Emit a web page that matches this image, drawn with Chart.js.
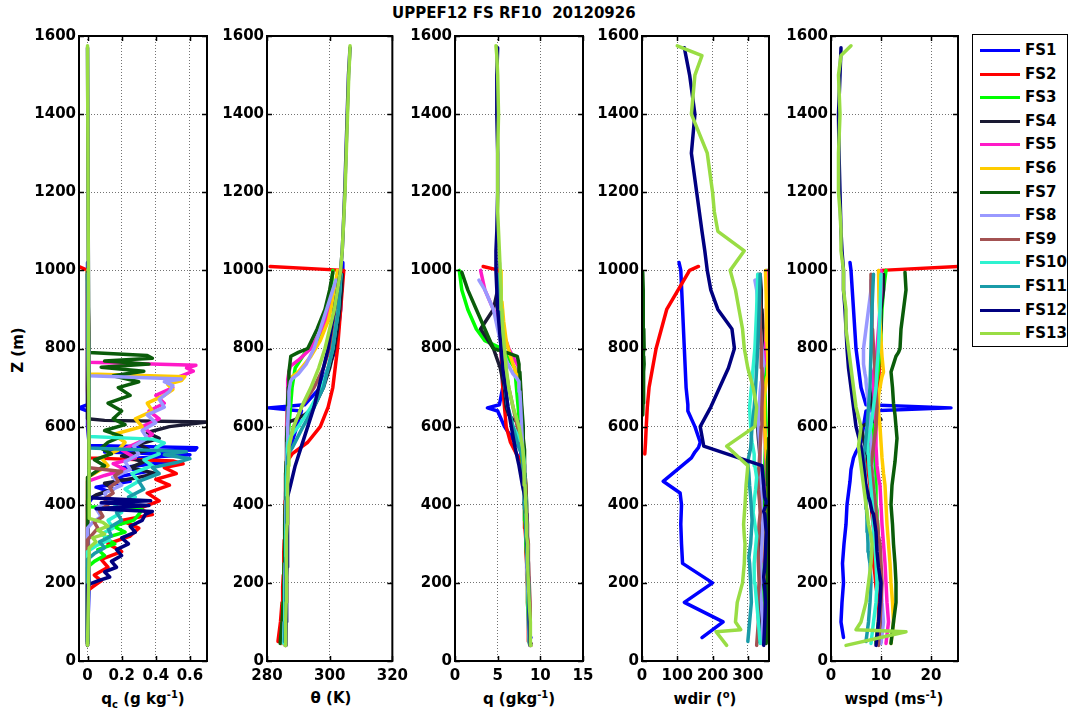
<!DOCTYPE html>
<html>
<head>
<meta charset="utf-8">
<script src="https://cdn.jsdelivr.net/npm/chart.js@4.4.1/dist/chart.umd.min.js"></script>
<style>
  body { margin: 0; background: #fff; width: 1073px; height: 719px; position: relative; overflow: hidden;
         font-family: "DejaVu Sans", sans-serif; font-weight: bold; color: #000; }
  canvas.panel { position: absolute; }
  .txt { position: absolute; white-space: nowrap; font-size: 15px; }
  .axlab { position: absolute; top: 689px; font-size: 15px; white-space: nowrap; transform: translateX(-50%); }
  .axlab sup, .axlab sub { font-size: 10px; }
  #legend { position: absolute; left: 972px; top: 34px; width: 96px; height: 313px; border: 1.5px solid #000; box-sizing: border-box; }
  #legend .row { position: absolute; left: 0; height: 20px; font-size: 15px; line-height: 20px; }
  #legend .swatch { position: absolute; left: 7px; top: 9px; width: 40px; height: 3px; }
  #legend .name { position: absolute; left: 52px; top: 0; }
</style>
</head>
<body>
<div class="txt" id="title" style="left:392px; top:4px;">UPPEF12 FS RF10&nbsp;&nbsp;20120926</div>
<div class="txt" style="left:18px; top:350px; transform: translate(-50%, -50%) rotate(-90deg);">Z (m)</div>
<div class="axlab" style="left:143px;">q<sub>c</sub> (g kg<sup>-1</sup>)</div>
<div class="axlab" style="left:331px;">&theta; (K)</div>
<div class="axlab" style="left:519px;">q (gkg<sup>-1</sup>)</div>
<div class="axlab" style="left:705px;">wdir (<sup>o</sup>)</div>
<div class="axlab" style="left:894px;">wspd (ms<sup>-1</sup>)</div>
<div id="legend"></div>

<script>
// --- datos: una sonda por serie ---
const fsNames = ['FS1', 'FS2', 'FS3', 'FS4', 'FS5', 'FS6', 'FS7', 'FS8', 'FS9', 'FS10', 'FS11', 'FS12', 'FS13'];
const fsColors = ['#0000FF', '#FF0000', '#00FF00', '#1A1A33', '#FF1AC8', '#FFCC00', '#0A5C0A',
                  '#9999FF', '#A35252', '#2EF2D0', '#199BA8', '#000080', '#99DD44'];

// agua de nube: alturas propias (más finas dentro de la nube)
const fs1QcZ  = [60, 200, 400, 420, 435, 445, 460, 470, 485, 495, 510, 520, 528, 535, 540, 546, 552, 600, 640, 648, 656, 800, 1020];
const fs1QcV  = [0, 0.01, 0, 0.03, 0.12, 0.05, 0.25, 0.15, 0.35, 0.2, 0.48, 0.3, 0.6, 0.1, 0.63, 0.64, 0.01, 0, 0, -0.05, 0, 0, 0];
const fs2QcZ  = [50, 180, 190, 205, 220, 240, 260, 280, 300, 320, 340, 360, 375, 390, 410, 430, 450, 465, 480, 495, 505, 512, 520, 700, 1000, 1010];
const fs2QcV  = [0, 0, 0.03, 0.08, 0.04, 0.12, 0.08, 0.2, 0.12, 0.25, 0.3, 0.2, 0.38, 0.3, 0.42, 0.35, 0.48, 0.4, 0.52, 0.45, 0.56, 0.5, 0.01, 0, 0, -0.05];
const fs3QcZ  = [45, 240, 255, 270, 285, 300, 315, 330, 345, 360, 375, 388, 395, 1000];
const fs3QcV  = [0, 0, 0.04, 0.1, 0.06, 0.16, 0.1, 0.22, 0.15, 0.27, 0.3, 0.32, 0.01, 0];
const fs4QcZ  = [50, 410, 425, 440, 455, 470, 480, 495, 510, 525, 540, 555, 570, 585, 600, 612, 616, 620, 990];
const fs4QcV  = [0, 0, 0.05, 0.15, 0.1, 0.3, 0.4, 0.25, 0.33, 0.2, 0.36, 0.3, 0.42, 0.35, 0.48, 0.7, 0.1, 0, 0];
const fs5QcZ  = [45, 460, 475, 490, 505, 520, 540, 560, 580, 600, 620, 640, 660, 680, 700, 715, 730, 742, 750, 757, 765, 1000];
const fs5QcV  = [0, 0, 0.1, 0.22, 0.15, 0.28, 0.2, 0.3, 0.38, 0.32, 0.42, 0.36, 0.45, 0.4, 0.5, 0.46, 0.55, 0.62, 0.58, 0.635, 0.01, 0];
const fs6QcZ  = [45, 470, 485, 500, 520, 540, 560, 580, 600, 620, 640, 660, 680, 695, 708, 718, 728, 735, 1000];
const fs6QcV  = [0, 0, 0.06, 0.12, 0.08, 0.18, 0.22, 0.15, 0.32, 0.28, 0.38, 0.35, 0.45, 0.5, 0.47, 0.55, 0.57, 0.01, 0];
const fs7QcZ  = [45, 470, 485, 500, 515, 530, 545, 560, 575, 590, 605, 620, 640, 660, 680, 700, 715, 730, 742, 752, 760, 768, 775, 782, 790, 995];
const fs7QcV  = [0, 0, 0.05, 0.1, 0.04, 0.14, 0.08, 0.12, 0.2, 0.1, 0.22, 0.15, 0.2, 0.12, 0.25, 0.18, 0.3, 0.15, 0.33, 0.08, 0.36, 0.1, 0.38, 0.35, 0.01, 0];
const fs8QcZ  = [45, 340, 355, 370, 390, 410, 430, 450, 470, 490, 510, 530, 550, 570, 590, 610, 630, 650, 670, 690, 705, 715, 722, 730, 975];
const fs8QcV  = [0, 0, 0.03, 0.08, 0.05, 0.12, 0.1, 0.2, 0.15, 0.25, 0.22, 0.3, 0.27, 0.35, 0.32, 0.4, 0.35, 0.45, 0.42, 0.48, 0.5, 0.45, 0.55, 0.01, 0];
const fs9QcZ  = [40, 310, 325, 340, 355, 370, 385, 400, 415, 430, 445, 460, 475, 485, 495, 990];
const fs9QcV  = [0, 0, 0.03, 0.06, 0.04, 0.09, 0.07, 0.12, 0.1, 0.15, 0.13, 0.18, 0.16, 0.2, 0.01, 0];
const fs10QcZ = [45, 280, 295, 310, 325, 340, 360, 380, 400, 420, 440, 460, 480, 500, 515, 530, 545, 558, 568, 575, 990];
const fs10QcV = [0, 0, 0.05, 0.13, 0.08, 0.15, 0.12, 0.2, 0.16, 0.28, 0.22, 0.3, 0.26, 0.38, 0.33, 0.42, 0.4, 0.45, 0.38, 0.01, 0];
const fs11QcZ = [50, 260, 275, 290, 305, 320, 340, 360, 380, 400, 420, 440, 460, 480, 495, 508, 518, 528, 536, 545, 990];
const fs11QcV = [0, 0, 0.04, 0.1, 0.07, 0.14, 0.12, 0.2, 0.17, 0.27, 0.24, 0.33, 0.3, 0.42, 0.38, 0.52, 0.6, 0.45, 0.58, 0.01, 0];
const fs12QcZ = [40, 195, 205, 215, 228, 240, 255, 270, 285, 300, 315, 330, 345, 360, 376, 383, 390, 398, 405, 410, 418, 1570];
const fs12QcV = [0, 0, 0.06, 0.13, 0.1, 0.17, 0.14, 0.2, 0.17, 0.24, 0.2, 0.28, 0.25, 0.32, 0.34, 0.38, 0.05, 0.36, 0.08, 0.37, 0.01, 0];
const fs13QcZ = [40, 290, 305, 315, 325, 335, 345, 355, 365, 1575];
const fs13QcV = [0, 0.01, 0.05, 0.03, 0.1, 0.06, 0.12, 0.09, 0.01, 0];

// theta, q, wdir, wspd: alturas compartidas por serie
const fs1Z  = [60, 100, 150, 200, 250, 300, 350, 400, 430, 460, 490, 520, 535, 546, 560, 600, 640, 648, 656, 700, 800, 900, 1000, 1020];
const fs1Th = [285.2, 285.3, 285.4, 285.5, 285.6, 285.7, 285.8, 285.9, 286, 286.1, 286.3, 286.5, 286.7, 287, 288, 289.5, 291, 280.4, 292, 297, 302, 303.5, 304, 304.2];
const fs1Q  = [8.9, 8.8, 8.7, 8.6, 8.5, 8.4, 8.3, 8.2, 8.1, 8.0, 7.9, 7.8, 7.7, 7.6, 7.0, 5.8, 5.0, 3.8, 5.2, 5.6, 5.4, 5.3, 5.2, 5.2];
const fs1Wd = [170, 230, 120, 200, 115, 112, 110, 112, 108, 60, 100, 140, 150, 160, 165, 150, 130, 130, 130, 125, 120, 115, 110, 105];
const fs1Ws = [2.5, 2, 2.2, 2.5, 2.3, 2.6, 3, 3.2, 3.5, 3.8, 4, 4.5, 5, 5.5, 6, 6.5, 7, 24, 7, 6, 5, 4.5, 4, 3.8];

const fs2Z  = [50, 100, 150, 190, 220, 250, 280, 310, 340, 375, 410, 450, 480, 500, 512, 530, 560, 600, 650, 700, 800, 900, 1000, 1010];
const fs2Th = [283.5, 284.3, 284.8, 285, 285.2, 285.3, 285.4, 285.5, 285.6, 285.7, 285.8, 285.9, 286, 286.2, 286.5, 288, 293, 297, 299.5, 301, 302.5, 303.5, 304.5, 281];
const fs2Q  = [8.6, 8.6, 8.5, 8.5, 8.4, 8.4, 8.3, 8.3, 8.2, 8.2, 8.1, 8.0, 8.0, 7.9, 7.8, 7.2, 6.5, 6.0, 5.8, 5.6, 5.4, 5.3, 5.2, 3.3];
const fs2Wd = [350, 345, 340, 342, 338, 340, 345, 350, 348, 352, 355, 350, 356, 358, null, 8, 10, 12, 15, 20, 40, 70, 135, 160];
const fs2Ws = [9, 9.5, 9.5, 9, 8.8, 8.5, 8.6, 8.4, 8.5, 8.2, 8, 7.8, 7.5, 7.2, 7, 7.5, 8, 8.5, 9, 9.5, 9.8, 10, 10, 25.5];

const fs3Z  = [45, 100, 150, 200, 250, 270, 300, 330, 360, 385, 400, 450, 500, 550, 600, 650, 700, 750, 800, 820, 850, 900, 950, 1000];
const fs3Th = [284.5, 285, 285.2, 285.4, 285.5, 285.6, 285.7, 285.8, 285.9, 286, 286, 286.2, 286.4, 286.6, 287, 287.5, 288, 289, 293, 296, 298, 299.5, 300.5, 301];
const fs3Q  = [8.7, 8.6, 8.5, 8.5, 8.4, 8.4, 8.3, 8.3, 8.2, 8.2, 8.1, 8.0, 7.9, 7.8, 7.6, 7.4, 7.2, 7.0, 5.5, 3.5, 2.5, 1.5, 0.8, 0.5];
const fs3Wd = [340, 342, 345, 343, 346, 348, 345, 347, 350, 348, 346, 345, 348, 350, 352, 350, 348, 352, 355, 357, 356, 355, 354, 355];
const fs3Ws = [9, 9.5, 10, 10, 9.8, 9.6, 9.5, 9.4, 9.3, 9.2, 9, 9, 8.8, 8.6, 8.5, 8.8, 9, 9.5, 9.8, 10, 10, 10.2, 10.5, 11];

const fs4Z  = [50, 100, 150, 200, 250, 300, 350, 400, 420, 450, 480, 510, 540, 570, 600, 612, 618, 630, 650, 700, 750, 800, 850, 900, 950, 990];
const fs4Th = [285, 285.3, 285.5, 285.6, 285.7, 285.8, 285.9, 286, 286, 286.1, 286.2, 286.3, 286.4, 286.5, 286.7, 287, 289, 292, 295, 298, 300, 301.5, 302.5, 303.2, 303.8, 304];
const fs4Q  = [8.8, 8.7, 8.7, 8.6, 8.5, 8.4, 8.3, 8.2, 8.2, 8.1, 8.0, 8.0, 7.9, 7.8, 7.7, 7.5, 6.8, 6.3, 6.0, 5.8, 5.3, 4.5, 3.0, 4.5, 5.0, 5.2];
const fs4Wd = [330, 335, 332, 338, 335, 333, 336, 338, 340, 338, 336, 335, 333, 330, 328, 330, 332, 335, 338, 340, 342, 345, 343, 340, 338, 335];
const fs4Ws = [10, 10.2, 10, 9.8, 9.5, 9.2, 9, 8.8, 8.5, 8.2, 8, 7.5, 7, 6.5, 6, 8, 10, 9, 8, 8.5, 9, 9.5, 10, 10, 10.5, 10.5];

const fs5Z  = [45, 100, 150, 200, 250, 300, 350, 400, 450, 470, 500, 550, 600, 640, 680, 720, 740, 755, 770, 800, 850, 900, 950, 1000];
const fs5Th = [284.8, 285.2, 285.4, 285.5, 285.6, 285.7, 285.8, 285.9, 286, 286, 286.1, 286.2, 286.3, 286.4, 286.5, 286.7, 287, 287.5, 290, 294, 297.5, 300, 302, 303];
const fs5Q  = [8.9, 8.8, 8.7, 8.6, 8.6, 8.5, 8.4, 8.3, 8.2, 8.2, 8.1, 8.0, 7.9, 7.8, 7.7, 7.6, 7.5, 7.4, 7.0, 6.3, 5.5, 4.5, 3.5, 3.0];
const fs5Wd = [345, 348, 350, 352, 349, 347, 350, 352, 354, 355, 352, 350, 348, 345, 343, 340, 342, 345, 348, 350, 352, 353, 355, 356];
const fs5Ws = [11, 11.5, 11.2, 11, 10.8, 10.5, 10.2, 10, 9.8, 9.5, 9.2, 9, 9, 8.8, 8.6, 8.5, 8.5, 8.8, 9, 9.2, 9.5, 9.8, 10, 10];

const fs6Z  = [45, 100, 150, 200, 250, 300, 350, 400, 450, 480, 520, 560, 600, 640, 680, 700, 715, 728, 740, 780, 820, 870, 920, 1000];
const fs6Th = [285, 285.3, 285.5, 285.6, 285.7, 285.8, 285.9, 286, 286.1, 286.2, 286.3, 286.4, 286.5, 286.6, 286.8, 287, 287.3, 288, 290, 294, 297, 299.5, 301, 302.5];
const fs6Q  = [8.8, 8.8, 8.7, 8.6, 8.5, 8.5, 8.4, 8.3, 8.3, 8.2, 8.1, 8.0, 7.9, 7.8, 7.7, 7.6, 7.5, 7.4, 7.1, 6.5, 6.0, 5.7, 5.5, 5.4];
const fs6Wd = [350, 352, 355, 353, 350, 348, 352, 355, 357, 355, 353, 350, 348, 346, 348, 350, 352, 355, 357, 356, 354, 353, 352, 350];
const fs6Ws = [12, 12.5, 12.3, 12, 11.8, 11.5, 11.2, 11, 10.8, 10.5, 10.2, 10, 9.8, 9.5, 9.5, 9.8, 10, 10.2, 10.5, 10.2, 10, 9.8, 9.6, 9.5];

const fs7Z  = [45, 100, 150, 200, 250, 300, 350, 400, 450, 480, 510, 540, 570, 600, 630, 660, 700, 740, 760, 780, 790, 800, 850, 900, 950, 995];
const fs7Th = [284.2, 284.8, 285.2, 285.4, 285.5, 285.6, 285.7, 285.8, 285.9, 286, 286.1, 286.2, 286.3, 286.4, 286.5, 286.6, 286.8, 287, 287.3, 287.6, 290, 293, 296, 298.5, 300, 301];
const fs7Q  = [8.9, 8.8, 8.7, 8.6, 8.6, 8.5, 8.4, 8.4, 8.3, 8.2, 8.2, 8.1, 8.0, 8.0, 7.9, 7.8, 7.7, 7.6, 7.5, 7.3, 6.0, 4.5, 3.5, 2.5, 1.5, 0.8];
const fs7Wd = [352, 355, 354, 356, 357, 355, 356, 358, 357, 355, 356, 358, 359, null, 2, 3, 4, 5, 6, 5, 4, 6, 5, 4, 3, 2];
const fs7Ws = [12, 12.5, 13, 13, 12.8, 12.5, 12.3, 12, 12.2, 12.5, 12.8, 13, 13.2, 13, 12.8, 12.5, 12.3, 12, 12.5, 13, 13.5, 13.8, 14, 14.5, 15, 14.8];

const fs8Z  = [45, 100, 150, 200, 250, 300, 350, 380, 410, 450, 500, 560, 600, 650, 690, 715, 722, 735, 760, 800, 850, 900, 950, 975];
const fs8Th = [285.3, 285.5, 285.6, 285.7, 285.8, 285.9, 286, 286, 286.1, 286.2, 286.3, 286.5, 286.6, 286.8, 287, 287.5, 288, 290, 292.5, 295, 297, 299, 301, 302];
const fs8Q  = [8.7, 8.6, 8.6, 8.5, 8.4, 8.4, 8.3, 8.3, 8.2, 8.1, 8.0, 7.9, 7.8, 7.7, 7.6, 7.5, 7.3, 6.8, 6.2, 5.5, 5.0, 4.5, 3.5, 2.8];
const fs8Wd = [340, 342, 338, 335, 337, 340, 342, 340, 338, 336, 335, 333, 330, 332, 335, 338, 340, 342, 345, 340, 335, 330, 325, 320];
const fs8Ws = [10, 10.5, 10.2, 10, 9.8, 9.5, 9.2, 9, 8.8, 8.5, 8.2, 8, 7.8, 7.5, 7.2, 7, 7, 6.8, 6.5, 6.5, 7, 7.5, 8, 8];

const fs9Z  = [40, 100, 150, 200, 250, 300, 320, 350, 380, 410, 440, 470, 485, 500, 550, 600, 650, 700, 750, 800, 850, 900, 950, 990];
const fs9Th = [285.8, 286, 286.1, 286.2, 286.2, 286.3, 286.3, 286.4, 286.4, 286.5, 286.5, 286.6, 286.6, 286.7, 287, 288.5, 291, 295, 298, 300, 301.5, 302.5, 303.2, 303.5];
const fs9Q  = [8.9, 8.8, 8.8, 8.7, 8.6, 8.6, 8.5, 8.5, 8.4, 8.3, 8.3, 8.2, 8.2, 8.1, 7.8, 7.3, 6.8, 6.3, 5.9, 5.6, 5.4, 5.3, 5.2, 5.2];
const fs9Wd = [325, 330, 328, 332, 330, 328, 330, 332, 335, 333, 330, 328, 330, 332, 335, 338, 340, 342, 340, 338, 336, 335, 333, 330];
const fs9Ws = [9.5, 9.8, 10, 10.2, 10, 9.8, 9.5, 9.3, 9, 8.8, 8.5, 8.3, 8.2, 8, 8.5, 9, 9.2, 9, 8.8, 8.5, 8.3, 8.2, 8, 8];

const fs10Z  = [45, 100, 150, 200, 250, 290, 320, 350, 380, 410, 440, 470, 500, 530, 545, 560, 575, 600, 650, 700, 750, 800, 900, 990];
const fs10Th = [285.4, 285.6, 285.7, 285.8, 285.9, 286, 286, 286.1, 286.1, 286.2, 286.2, 286.3, 286.4, 286.5, 286.6, 286.8, 287.5, 290, 294, 297.5, 299.5, 301, 302.8, 303.6];
const fs10Q  = [8.8, 8.7, 8.7, 8.6, 8.5, 8.5, 8.4, 8.4, 8.3, 8.3, 8.2, 8.2, 8.1, 8.0, 7.9, 7.8, 7.4, 6.8, 6.2, 5.9, 5.7, 5.5, 5.3, 5.2];
const fs10Wd = [335, 330, 325, 320, 318, 322, 325, 320, 315, 318, 322, 325, 320, 318, 315, 312, 310, 308, 305, 310, 315, 320, 325, 328];
const fs10Ws = [8, 8.5, 9, 9.2, 9, 8.8, 8.6, 8.5, 8.4, 8.2, 8, 7.8, 7.6, 7.5, 7.4, 7.3, 7.5, 8, 8.5, 9, 9.2, 9.5, 9.8, 10];

const fs11Z  = [50, 100, 150, 200, 250, 265, 280, 300, 330, 360, 390, 420, 450, 480, 505, 520, 532, 545, 600, 650, 700, 800, 900, 990];
const fs11Th = [285.6, 285.8, 285.9, 286, 286, 286.1, 286.1, 286.2, 286.2, 286.3, 286.3, 286.4, 286.4, 286.5, 286.6, 286.7, 286.9, 288, 291.5, 295, 298, 301, 302.8, 303.5];
const fs11Q  = [8.7, 8.7, 8.6, 8.6, 8.5, 8.5, 8.4, 8.4, 8.3, 8.3, 8.2, 8.2, 8.1, 8.1, 8.0, 7.9, 7.8, 7.5, 6.8, 6.2, 5.9, 5.5, 5.3, 5.2];
const fs11Wd = [300, 305, 310, 308, 305, 303, 305, 308, 310, 312, 310, 308, 305, 303, 300, 302, 305, 308, 312, 318, 322, 328, 332, 335];
const fs11Ws = [7, 7.5, 7.8, 8, 7.8, 7.6, 7.5, 7.4, 7.3, 7.2, 7.1, 7, 6.9, 6.8, 6.7, 6.6, 6.5, 6.8, 7.2, 7.5, 7.8, 8, 8.2, 8.5];

const fs12Z  = [40, 100, 150, 200, 215, 240, 280, 330, 376, 383, 395, 408, 420, 450, 500, 550, 600, 650, 700, 750, 800, 850, 900, 950, 1000, 1050, 1100, 1200, 1300, 1400, 1500, 1570];
const fs12Th = [286, 286.1, 286.2, 286.3, 286.3, 286.4, 286.4, 286.5, 286.5, 286.6, 286.6, 286.6, 286.7, 287.5, 289, 291, 293, 295, 296.5, 298, 299.5, 300.5, 301.5, 302.5, 303.5, 304, 304.3, 304.8, 305.2, 305.6, 306, 306.5];
const fs12Q  = [8.8, 8.7, 8.7, 8.6, 8.6, 8.5, 8.5, 8.4, 8.4, 8.3, 8.3, 8.3, 8.2, 7.9, 7.5, 7.0, 6.6, 6.2, 5.9, 5.6, 5.4, 5.2, 5.0, 4.9, 4.8, 4.8, 4.9, 5.0, 5.0, 4.9, 4.9, 5.0];
const fs12Wd = [345, 348, 350, 347, 345, 348, 350, 352, 348, 345, 350, 352, 348, 345, 340, 175, 165, 195, 220, 245, 262, 255, 215, 195, 185, 178, 170, 155, 140, 150, 135, 120];
const fs12Ws = [9, 9.5, 9.8, 10, 9.8, 9.5, 9.2, 9, 8.5, 8.2, 8, 7.8, 7.5, 7, 6.5, 6, 5, 4.5, 4, 3.5, 3.2, 3, 2.8, 2.5, 2.5, 2.2, 2, 1.8, 1.6, 1.5, 1.8, 2];

const fs13Z  = [40, 75, 80, 100, 150, 200, 250, 300, 320, 350, 400, 450, 500, 550, 600, 650, 700, 750, 800, 850, 900, 950, 1000, 1050, 1100, 1150, 1200, 1300, 1400, 1500, 1550, 1575];
const fs13Th = [285.8, 285.9, 286, 286, 286.1, 286.2, 286.2, 286.3, 286.3, 286.4, 286.5, 286.6, 286.8, 287, 288.5, 291, 294, 296.5, 298.5, 300, 301.5, 302.5, 303.5, 304, 304.3, 304.6, 304.9, 305.3, 305.7, 306.1, 306.4, 306.5];
const fs13Q  = [8.9, 8.9, 8.8, 8.8, 8.7, 8.6, 8.5, 8.5, 8.4, 8.4, 8.3, 8.2, 8.1, 7.9, 7.5, 6.8, 6.3, 6.0, 5.8, 5.6, 5.5, 5.4, 5.3, 5.2, 5.1, 5.0, 5.0, 5.0, 5.1, 5.0, 4.9, 4.8];
const fs13Wd = [240, 210, 280, 265, 270, 285, 290, 292, 290, 288, 292, 295, 300, 240, 320, 325, 315, 300, 290, 285, 275, 265, 250, 290, 215, 205, 200, 185, 140, 150, 170, 100];
const fs13Ws = [3, 15, 5, 6, 7, 7.5, 8, 8.2, 8, 7.5, 7, 6.5, 6, 5.5, 6, 5, 4.5, 4, 3.5, 3, 3, 2.5, 2.5, 2, 2, 1.8, 1.5, 1.5, 1.8, 1.5, 2, 4];

const qcAltitudes = [fs1QcZ, fs2QcZ, fs3QcZ, fs4QcZ, fs5QcZ, fs6QcZ, fs7QcZ, fs8QcZ, fs9QcZ, fs10QcZ, fs11QcZ, fs12QcZ, fs13QcZ];
const qcProfiles  = [fs1QcV, fs2QcV, fs3QcV, fs4QcV, fs5QcV, fs6QcV, fs7QcV, fs8QcV, fs9QcV, fs10QcV, fs11QcV, fs12QcV, fs13QcV];
const altitudes   = [fs1Z, fs2Z, fs3Z, fs4Z, fs5Z, fs6Z, fs7Z, fs8Z, fs9Z, fs10Z, fs11Z, fs12Z, fs13Z];
const thProfiles  = [fs1Th, fs2Th, fs3Th, fs4Th, fs5Th, fs6Th, fs7Th, fs8Th, fs9Th, fs10Th, fs11Th, fs12Th, fs13Th];
const qProfiles   = [fs1Q, fs2Q, fs3Q, fs4Q, fs5Q, fs6Q, fs7Q, fs8Q, fs9Q, fs10Q, fs11Q, fs12Q, fs13Q];
const wdProfiles  = [fs1Wd, fs2Wd, fs3Wd, fs4Wd, fs5Wd, fs6Wd, fs7Wd, fs8Wd, fs9Wd, fs10Wd, fs11Wd, fs12Wd, fs13Wd];
const wsProfiles  = [fs1Ws, fs2Ws, fs3Ws, fs4Ws, fs5Ws, fs6Ws, fs7Ws, fs8Ws, fs9Ws, fs10Ws, fs11Ws, fs12Ws, fs13Ws];

// ejes
const zTicks = [0, 200, 400, 600, 800, 1000, 1200, 1400, 1600];
const qcTicks = [0, 0.2, 0.4, 0.6];
const thTicks = [280, 300, 320];
const qTicks = [0, 5, 10, 15];
const wdTicks = [0, 100, 200, 300];
const wsTicks = [0, 10, 20];

// Paneles: alturas, variable, rango x, ticks y posición del área de trazado en la página
const panels = [
  { alt: qcAltitudes, prof: qcProfiles, min: -0.05, max: 0.7, ticks: qcTicks, left: 79, width: 128 },
  { alt: altitudes, prof: thProfiles, min: 280, max: 320, ticks: thTicks, left: 267, width: 127 },
  { alt: altitudes, prof: qProfiles,  min: 0, max: 15, ticks: qTicks, left: 455, width: 128 },
  { alt: altitudes, prof: wdProfiles, min: 0, max: 360, ticks: wdTicks, left: 642, width: 127 },
  { alt: altitudes, prof: wsProfiles, min: 0, max: 25.4, ticks: wsTicks, left: 831, width: 127 }
];

const PLOT_TOP = 34, PLOT_H = 627;
const PAD = { left: 5, top: 10, right: 20, bottom: 4 };
const Y_AXIS_W = 50, X_AXIS_H = 30;
const tickFont = { family: 'DejaVu Sans', size: 15, weight: 'bold' };

// Marco negro con ticks interiores (estilo MATLAB)
const framePlugin = {
  id: 'frame',
  afterDatasetsDraw(chart) {
    const { ctx, chartArea: a, scales } = chart;
    ctx.save();
    ctx.strokeStyle = '#000';
    ctx.lineWidth = 1.5;
    ctx.beginPath();
    scales.x.ticks.forEach(t => {
      const px = Math.round(scales.x.getPixelForValue(t.value)) + 0.5;
      ctx.moveTo(px, a.bottom); ctx.lineTo(px, a.bottom - 5);
      ctx.moveTo(px, a.top); ctx.lineTo(px, a.top + 5);
    });
    scales.y.ticks.forEach(t => {
      const py = Math.round(scales.y.getPixelForValue(t.value)) + 0.5;
      ctx.moveTo(a.left, py); ctx.lineTo(a.left + 5, py);
      ctx.moveTo(a.right, py); ctx.lineTo(a.right - 5, py);
    });
    ctx.stroke();
    ctx.lineWidth = 2;
    ctx.strokeRect(a.left, a.top, a.right - a.left, a.bottom - a.top);
    ctx.restore();
  }
};

function buildDatasets(alt, prof) {
  return fsNames.map((name, i) => ({
    label: name,
    data: alt[i].map((z, k) => ({ x: prof[i][k], y: z })),
    borderColor: fsColors[i],
    backgroundColor: fsColors[i],
    borderWidth: 3.5,
    borderJoinStyle: 'round',
    borderCapStyle: 'round',
    pointRadius: 0,
    showLine: true,
    tension: 0,
    order: fsNames.length - i   // FS13 queda encima, como en el original
  }));
}

panels.forEach(p => {
  const canvas = document.createElement('canvas');
  canvas.className = 'panel';
  const w = PAD.left + Y_AXIS_W + p.width + PAD.right;
  const h = PAD.top + PLOT_H + X_AXIS_H + PAD.bottom;
  canvas.width = w;
  canvas.height = h;
  canvas.style.left = (p.left - PAD.left - Y_AXIS_W) + 'px';
  canvas.style.top = (PLOT_TOP - PAD.top) + 'px';
  document.body.appendChild(canvas);

  new Chart(canvas.getContext('2d'), {
    type: 'scatter',
    data: { datasets: buildDatasets(p.alt, p.prof) },
    options: {
      responsive: false,
      animation: false,
      layout: { padding: PAD },
      plugins: { legend: { display: false }, tooltip: { enabled: false } },
      scales: {
        x: {
          type: 'linear', min: p.min, max: p.max,
          afterBuildTicks: s => { s.ticks = p.ticks.map(v => ({ value: v })); },
          afterFit: s => { s.height = X_AXIS_H; },
          ticks: { color: '#000', font: tickFont, padding: 6, maxRotation: 0, autoSkip: false, callback: v => String(v) },
          grid: { color: 'rgba(0,0,0,0.55)', lineWidth: 1, drawTicks: false },
          border: { display: false, dash: [1, 2] }
        },
        y: {
          type: 'linear', min: 0, max: 1600,
          afterBuildTicks: s => { s.ticks = zTicks.map(v => ({ value: v })); },
          afterFit: s => { s.width = Y_AXIS_W; },
          ticks: { color: '#000', font: tickFont, padding: 3, autoSkip: false, callback: v => String(v) },
          grid: { color: 'rgba(0,0,0,0.55)', lineWidth: 1, drawTicks: false },
          border: { display: false, dash: [1, 2] }
        }
      }
    },
    plugins: [framePlugin]
  });
});

// Leyenda
const legend = document.getElementById('legend');
fsNames.forEach((name, i) => {
  const row = document.createElement('div');
  row.className = 'row';
  row.style.top = (5 + i * 23.6) + 'px';
  row.innerHTML = `<span class="swatch" style="background:${fsColors[i]}"></span><span class="name">${name}</span>`;
  legend.appendChild(row);
});
</script>
</body>
</html>
